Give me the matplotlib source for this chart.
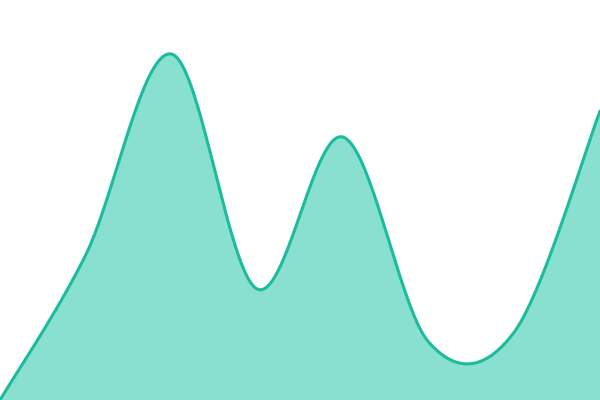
import numpy as np
import matplotlib
matplotlib.use('Agg')
import matplotlib.pyplot as plt

# data (one value per evenly spaced step)
steps = [0, 1, 2, 3, 4, 5, 6, 7]
values = [0, 145, 346, 111, 263, 58, 68, 289]

line_color = '#1abc9c'
fill_color = '#8ae0cf'


# cardinal spline through the points (tension 0, ends duplicated)
def cardinal(xs, ys, k=1 / 6, n=40):
    xs = np.asarray(xs, dtype=float)
    ys = np.asarray(ys, dtype=float)
    px = np.concatenate([[xs[0]], xs, [xs[-1]]])
    py = np.concatenate([[ys[0]], ys, [ys[-1]]])
    out_x, out_y = [], []
    t = np.linspace(0, 1, n)
    for i in range(1, len(px) - 2):
        x0, x1, x2, x3 = px[i - 1], px[i], px[i + 1], px[i + 2]
        y0, y1, y2, y3 = py[i - 1], py[i], py[i + 1], py[i + 2]
        bx = [x1, x1 + (x2 - x0) * k, x2 - (x3 - x1) * k, x2]
        by = [y1, y1 + (y2 - y0) * k, y2 - (y3 - y1) * k, y2]
        c = [(1 - t) ** 3, 3 * (1 - t) ** 2 * t, 3 * (1 - t) * t ** 2, t ** 3]
        out_x.append(sum(ci * b for ci, b in zip(c, bx)))
        out_y.append(sum(ci * b for ci, b in zip(c, by)))
    return np.concatenate(out_x), np.concatenate(out_y)


sx, sy = cardinal(steps, values)

fig = plt.figure(figsize=(6, 4), dpi=100)
ax = fig.add_axes([0, 0, 1, 1])
ax.fill_between(sx, 0, sy, color=fill_color, linewidth=0)
ax.plot(sx, sy, color=line_color, linewidth=2.2, solid_capstyle='round')
ax.set_xlim(0, 7)
ax.set_ylim(0, 400)
ax.axis('off')

fig.savefig('out.png', dpi=100, facecolor='white')
